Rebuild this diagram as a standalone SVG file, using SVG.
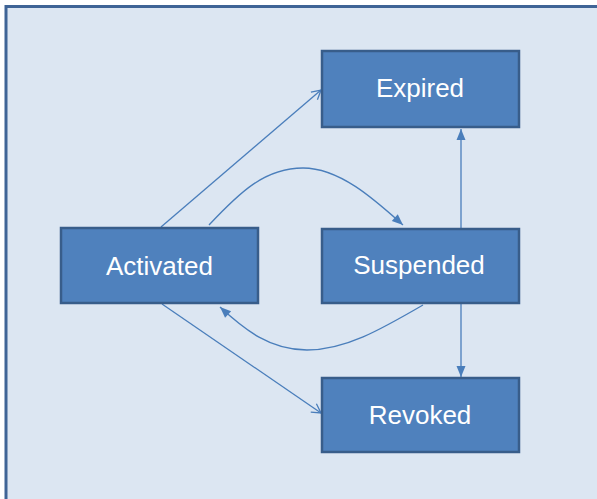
<svg xmlns="http://www.w3.org/2000/svg" width="597" height="499" viewBox="0 0 597 499">
<style>
.node rect{fill:#4f81bd;stroke:#385d8a;stroke-width:2.5}
.node text{font-family:"Liberation Sans",Arial,sans-serif;font-size:26px;fill:#ffffff;text-anchor:middle}
.edge{fill:none;stroke:#4a7ebb;stroke-width:1.3}
</style>
<defs>
<marker id="open" markerUnits="userSpaceOnUse" markerWidth="14" markerHeight="14" viewBox="-12 -7 14 14" refX="0" refY="0" orient="auto">
<path d="M-9,-5 L0,0 L-9,5" fill="none" stroke="#4a7ebb" stroke-width="1.3"/>
</marker>
<marker id="fill" markerUnits="userSpaceOnUse" markerWidth="14" markerHeight="14" viewBox="-12 -7 14 14" refX="0" refY="0" orient="auto">
<path d="M-11,-4.5 L0,0 L-11,4.5 Z" fill="#4a7ebb" stroke="none"/>
</marker>
</defs>
<rect x="6" y="6.5" width="600" height="500" fill="#dce6f2" stroke="#3f6496" stroke-width="3"/>
<g id="connectors">
<path class="edge" d="M161,227 L321,90" marker-end="url(#open)"/>
<path class="edge" d="M209,225 C240,192 265,168 303,168 C340,168 375,200 403,225" marker-end="url(#fill)"/>
<path class="edge" d="M423,305 C380,330 345,350 307,350 C270,350 245,330 220,307" marker-end="url(#fill)"/>
<path class="edge" d="M162,304 L321,413" marker-end="url(#open)"/>
<path class="edge" d="M461,228 L461,129" marker-end="url(#fill)"/>
<path class="edge" d="M461,304 L461,377" marker-end="url(#fill)"/>
</g>
<g id="expired" class="node"><rect x="322" y="51" width="197" height="76"/><text x="420" y="97">Expired</text></g>
<g id="activated" class="node"><rect x="61" y="228" width="197" height="75"/><text x="159.5" y="274.5">Activated</text></g>
<g id="suspended" class="node"><rect x="322" y="229" width="197" height="74"/><text x="419" y="274">Suspended</text></g>
<g id="revoked" class="node"><rect x="322" y="378" width="197" height="74"/><text x="420" y="424">Revoked</text></g>
</svg>
